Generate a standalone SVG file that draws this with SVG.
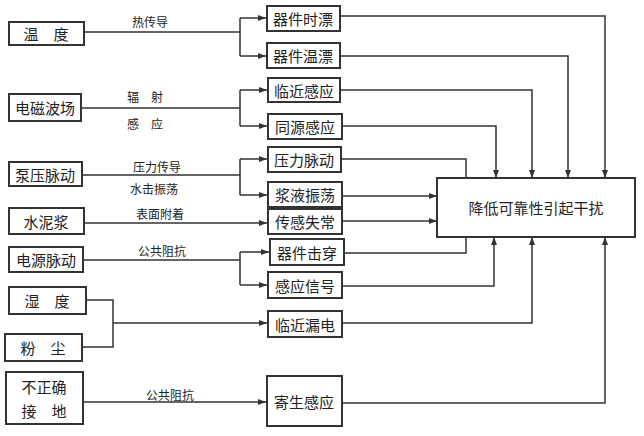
<svg xmlns="http://www.w3.org/2000/svg" width="644" height="436" viewBox="0 0 644 436">
<style>
.b{fill:#fff;stroke:#333;stroke-width:2}
.t{font-family:"Noto Sans CJK SC",sans-serif;font-size:15px;fill:#222;text-anchor:middle;dominant-baseline:central}
.l{font-family:"Noto Sans CJK SC",sans-serif;font-size:12px;fill:#222;text-anchor:middle;dominant-baseline:central}
.c{fill:none;stroke:#333;stroke-width:1.5}
</style>
<defs><marker id="a" markerWidth="8" markerHeight="6" refX="8" refY="3" orient="auto" markerUnits="userSpaceOnUse"><path d="M0,0L8,3L0,6z" fill="#333"/></marker></defs>
<rect width="644" height="436" fill="#fff"/>
<g id="connectors">
<path class="c" d="M84,32H240M240,18V56M240,18H266" marker-end="url(#a)"/>
<path class="c" d="M240,56H266" marker-end="url(#a)"/>
<path class="c" d="M81,108H240M240,90V126M240,90H267" marker-end="url(#a)"/>
<path class="c" d="M240,126H267" marker-end="url(#a)"/>
<path class="c" d="M82,175H240M240,159V195M240,159H267" marker-end="url(#a)"/>
<path class="c" d="M240,195H267" marker-end="url(#a)"/>
<path class="c" d="M84,223H267" marker-end="url(#a)"/>
<path class="c" d="M83,260H240M240,252V285M240,252H269" marker-end="url(#a)"/>
<path class="c" d="M240,285H267" marker-end="url(#a)"/>
<path class="c" d="M86,300H113V347H82M113,323H267" marker-end="url(#a)"/>
<path class="c" d="M83,402H266" marker-end="url(#a)"/>
<path class="c" d="M340,16H605V178" marker-end="url(#a)"/>
<path class="c" d="M340,56H568V178" marker-end="url(#a)"/>
<path class="c" d="M340,90H532V178" marker-end="url(#a)"/>
<path class="c" d="M342,126H496V178" marker-end="url(#a)"/>
<path class="c" d="M341,159H466V178"/>
<path class="c" d="M342,196H437" marker-end="url(#a)"/>
<path class="c" d="M342,221H437" marker-end="url(#a)"/>
<path class="c" d="M344,253H466V237"/>
<path class="c" d="M342,286H494V237" marker-end="url(#a)"/>
<path class="c" d="M342,323H532V237" marker-end="url(#a)"/>
<path class="c" d="M342,403H605V237" marker-end="url(#a)"/>
<text class="l" x="150" y="21">热传导</text>
<text class="l" x="145" y="96">辐　射</text>
<text class="l" x="145" y="123">感　应</text>
<text class="l" x="157" y="166">压力传导</text>
<text class="l" x="154" y="188">水击振荡</text>
<text class="l" x="160" y="213">表面附着</text>
<text class="l" x="162" y="250">公共阻抗</text>
<text class="l" x="170" y="394">公共阻抗</text>
</g>
<g id="n1"><rect class="b" x="9" y="22" width="75" height="23"/><text class="t" x="46" y="33">温　度</text></g>
<g id="n2"><rect class="b" x="9" y="94" width="72" height="27"/><text class="t" x="45" y="107">电磁波场</text></g>
<g id="n3"><rect class="b" x="9" y="162" width="73" height="24"/><text class="t" x="45" y="174">泵压脉动</text></g>
<g id="n4"><rect class="b" x="9" y="208" width="75" height="26"/><text class="t" x="46" y="221">水泥浆</text></g>
<g id="n5"><rect class="b" x="9" y="247" width="74" height="25"/><text class="t" x="46" y="259">电源脉动</text></g>
<g id="n6"><rect class="b" x="9" y="287" width="77" height="27"/><text class="t" x="47" y="300">湿　度</text></g>
<g id="n7"><rect class="b" x="5" y="334" width="77" height="27"/><text class="t" x="43" y="347">粉　尘</text></g>
<g id="n8"><rect class="b" x="6" y="372" width="77" height="52"/><text class="t" x="44" y="386">不正确</text><text class="t" x="44" y="410">接　地</text></g>
<g id="m1"><rect class="b" x="267" y="6" width="73" height="25"/><text class="t" x="303" y="18">器件时漂</text></g>
<g id="m2"><rect class="b" x="267" y="43" width="73" height="25"/><text class="t" x="303" y="55">器件温漂</text></g>
<g id="m3"><rect class="b" x="268" y="78" width="72" height="24"/><text class="t" x="304" y="90">临近感应</text></g>
<g id="m4"><rect class="b" x="268" y="114" width="74" height="25"/><text class="t" x="305" y="126">同源感应</text></g>
<g id="m5"><rect class="b" x="268" y="147" width="73" height="25"/><text class="t" x="304" y="159">压力脉动</text></g>
<g id="m6"><rect class="b" x="268" y="182" width="74" height="25"/><text class="t" x="305" y="194">浆液振荡</text></g>
<g id="m7"><rect class="b" x="268" y="209" width="74" height="25"/><text class="t" x="305" y="221">传感失常</text></g>
<g id="m8"><rect class="b" x="270" y="239" width="74" height="26"/><text class="t" x="307" y="252">器件击穿</text></g>
<g id="m9"><rect class="b" x="268" y="272" width="74" height="26"/><text class="t" x="305" y="285">感应信号</text></g>
<g id="m10"><rect class="b" x="268" y="311" width="74" height="26"/><text class="t" x="305" y="324">临近漏电</text></g>
<g id="m11"><rect class="b" x="267" y="376" width="75" height="50"/><text class="t" x="304" y="401">寄生感应</text></g>
<g id="main"><rect class="b" x="437" y="178" width="198" height="59"/><text class="t" x="536" y="207">降低可靠性引起干扰</text></g>
</svg>
